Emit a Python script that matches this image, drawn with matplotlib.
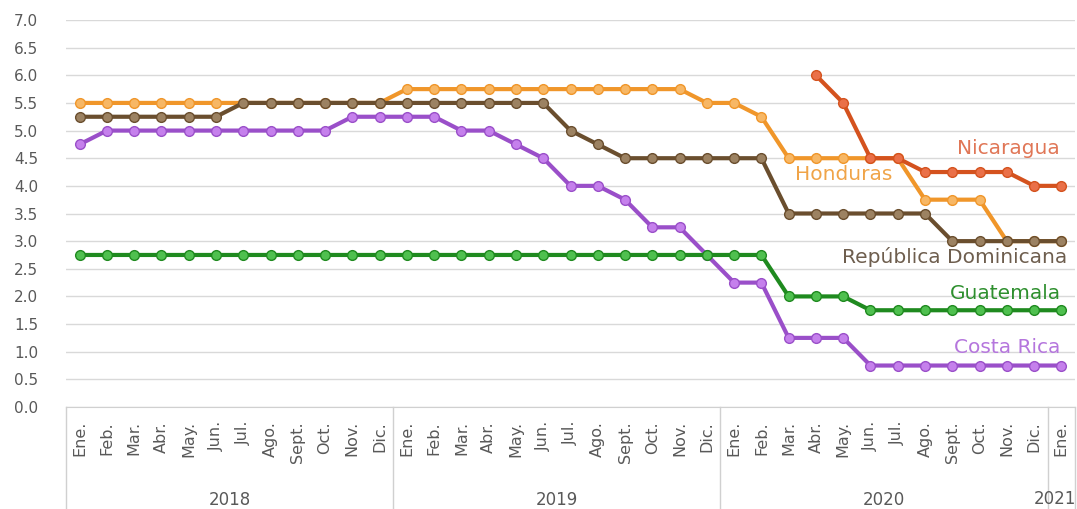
import numpy as np
import matplotlib.pyplot as plt
from matplotlib.transforms import blended_transform_factory

nan = np.nan

months = ["Ene.", "Feb.", "Mar.", "Abr.", "May.", "Jun.", "Jul.",
          "Ago.", "Sept.", "Oct.", "Nov.", "Dic."]
years = ["2018", "2019", "2020", "2021"]
tick_labels = months * 3 + ["Ene."]

honduras = [5.5] * 12 + [5.75] * 11 + [5.5, 5.5, 5.25] + [4.5] * 5 + [3.75] * 3 + [3.0] * 3
rep_dom = [5.25] * 6 + [5.5] * 12 + [5.0, 4.75] + [4.5] * 6 + [3.5] * 6 + [3.0] * 5
costa_rica = ([4.75] + [5.0] * 9 + [5.25] * 4 + [5.0, 5.0, 4.75, 4.5, 4.0, 4.0, 3.75,
              3.25, 3.25, 2.75, 2.25, 2.25, 1.25, 1.25, 1.25] + [0.75] * 8)
guatemala = [2.75] * 26 + [2.0] * 3 + [1.75] * 8
nicaragua = [nan] * 27 + [6.0, 5.5, 4.5, 4.5, 4.25, 4.25, 4.25, 4.25, 4.0, 4.0]

# name, values, line colour, marker colour, label colour, label x, label y
series = [
    ("Costa Rica", costa_rica, "#9A4FC9", "#C580EC", "#B576DD", 35.95, 1.07),
    ("Guatemala", guatemala, "#1F8A1F", "#4FC04F", "#2E8F2E", 36.0, 2.06),
    ("Honduras", honduras, "#F0962A", "#F7B765", "#F0A448", 29.8, 4.20),
    ("República Dominicana", rep_dom, "#6A4E2E", "#9C8262", "#6E5E4E", 36.2, 2.71),
    ("Nicaragua", nicaragua, "#D4521E", "#EA7048", "#E07656", 35.95, 4.68),
]

plt.rcParams['font.family'] = ['DejaVu Sans']

fig = plt.figure(figsize=(10.77, 5.09), dpi=100)
ax = fig.add_axes([66 / 1077, 1 - 407 / 509, (1075 - 66) / 1077, 387 / 509])

x = np.arange(len(tick_labels))
for name, vals, lc, mc, tc, lx, ly in series:
    ax.plot(x, vals, color=lc, lw=3, marker='o', ms=7,
            markerfacecolor=mc, markeredgecolor=lc, markeredgewidth=1.0,
            solid_capstyle='round')
    ax.text(lx, ly, name, color=tc, fontsize=14.5, ha='right', va='center')

ax.set_xlim(-0.5, len(x) - 0.5)
ax.set_ylim(0, 7)
ax.set_yticks(np.arange(0, 7.01, 0.5))
ax.set_yticklabels([f"{v:.1f}" for v in np.arange(0, 7.01, 0.5)],
                   color="#595959", fontsize=11)
ax.yaxis.grid(True, color="#D9D9D9", lw=1)
ax.set_axisbelow(True)
ax.tick_params(axis='y', length=0, pad=20)
ax.tick_params(axis='x', length=0, pad=10)
ax.set_xticks(x)
ax.set_xticklabels(tick_labels, rotation=90, color="#595959", fontsize=11.5,
                   va='top')
for s in ["top", "right", "left"]:
    ax.spines[s].set_visible(False)
ax.spines["bottom"].set_color("#D0D0D0")

# year group separators and labels
trans = blended_transform_factory(ax.transData, ax.transAxes)
for b in [-0.5, 11.5, 23.5, 35.5, 36.5]:
    ax.plot([b, b], [0, -0.27], color="#D0D0D0", lw=1, transform=trans,
            clip_on=False)
for i, yr in enumerate(years[:3]):
    start = i * 12
    ax.text(start + 5.5, -0.24, yr, transform=trans, ha='center',
            va='center', color="#595959", fontsize=12)
# last year label sits against the right edge of the figure
fig.text(1076 / 1077, 1 - 499 / 509, years[3], ha='right', va='center',
         color="#595959", fontsize=12)

fig.savefig("out.png", dpi=100)
